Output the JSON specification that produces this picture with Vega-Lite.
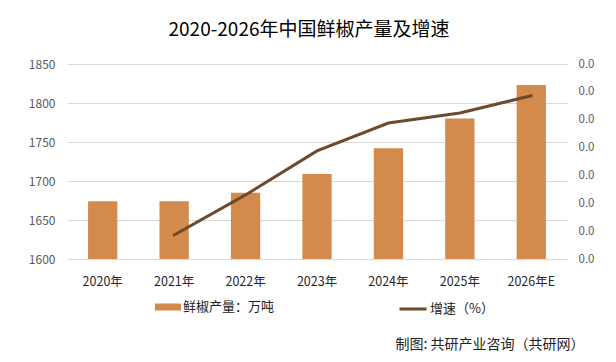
{
  "$schema": "https://vega.github.io/schema/vega-lite/v6.json",
  "width": 500,
  "height": 195,
  "autosize": {"type": "none"},
  "padding": {"left": 67, "top": 64, "right": 49, "bottom": 103},
  "background": "white",
  "config": {
    "view": {"stroke": null},
    "font": "Noto Sans CJK SC"
  },
  "title": {
    "text": "2020-2026年中国鲜椒产量及增速",
    "fontSize": 19,
    "fontWeight": "normal",
    "color": "#000000",
    "anchor": "middle",
    "dx": -8,
    "offset": 18,
    "font": "Noto Sans CJK SC"
  },
  "data": {
    "values": [
      {"year": "2020年", "prod": 1674, "growth": null},
      {"year": "2021年", "prod": 1674, "growth": 0.0043},
      {"year": "2022年", "prod": 1685, "growth": 0.0115},
      {"year": "2023年", "prod": 1709, "growth": 0.0194},
      {"year": "2024年", "prod": 1742, "growth": 0.0244},
      {"year": "2025年", "prod": 1780, "growth": 0.0262},
      {"year": "2026年E", "prod": 1823, "growth": 0.0293}
    ]
  },
  "encoding": {
    "x": {
      "field": "year",
      "type": "nominal",
      "sort": null,
      "scale": {"paddingInner": 0.59, "paddingOuter": 0.295},
      "axis": {
        "title": "制图: 共研产业咨询（共研网）",
        "titleX": 517,
        "titleY": 85,
        "titleAlign": "right",
        "titleBaseline": "middle",
        "titleFontSize": 14,
        "titleFontWeight": "normal",
        "titleColor": "#222222",
        "labelAngle": 0,
        "labelFontSize": 12.5,
        "labelColor": "#262626",
        "labelPadding": 16,
        "ticks": false,
        "domain": false,
        "grid": false
      }
    }
  },
  "layer": [
    {
      "mark": {"type": "bar", "clip": true},
      "encoding": {
        "y": {
          "field": "prod",
          "type": "quantitative",
          "scale": {"domain": [1600, 1850], "zero": false},
          "axis": {
            "title": null,
            "values": [1600, 1650, 1700, 1750, 1800, 1850],
            "format": "d",
            "labelFontSize": 12,
            "labelColor": "#595959",
            "labelPadding": 12,
            "ticks": false,
            "domain": false,
            "grid": true,
            "gridColor": "#d9d9d9",
            "gridWidth": 1
          }
        },
        "y2": {"datum": 1600},
        "fill": {
          "datum": "鲜椒产量：万吨",
          "scale": {"range": ["#D38B4D"]},
          "legend": {
            "title": null,
            "orient": "none",
            "legendX": 88,
            "legendY": 230,
            "symbolType": "M-1,-0.27H1V0.27H-1Z",
            "symbolSize": 676,
            "symbolStrokeWidth": 0,
            "symbolOpacity": 1,
            "labelFontSize": 13,
            "labelColor": "#222222",
            "labelOffset": 2,
            "padding": 0
          }
        }
      }
    },
    {
      "transform": [{"filter": "datum.growth != null"}],
      "mark": {"type": "line", "strokeWidth": 3, "strokeCap": "round"},
      "encoding": {
        "y": {
          "field": "growth",
          "type": "quantitative",
          "scale": {"domain": [0, 0.035]},
          "axis": {
            "orient": "right",
            "title": null,
            "values": [0, 0.005, 0.01, 0.015, 0.02, 0.025, 0.03, 0.035],
            "format": ".1f",
            "labelFontSize": 11.5,
            "labelColor": "#595959",
            "labelPadding": 11,
            "ticks": false,
            "domain": false,
            "grid": false
          }
        },
        "stroke": {
          "datum": "增速（%）",
          "scale": {"range": ["#6B4A2E"]},
          "legend": {
            "title": null,
            "orient": "none",
            "legendX": 331,
            "legendY": 230,
            "symbolType": "stroke",
            "symbolSize": 729,
            "symbolStrokeWidth": 3,
            "labelFontSize": 13,
            "labelColor": "#222222",
            "labelOffset": 2,
            "padding": 0
          }
        }
      }
    }
  ],
  "resolve": {"scale": {"y": "independent"}}
}
